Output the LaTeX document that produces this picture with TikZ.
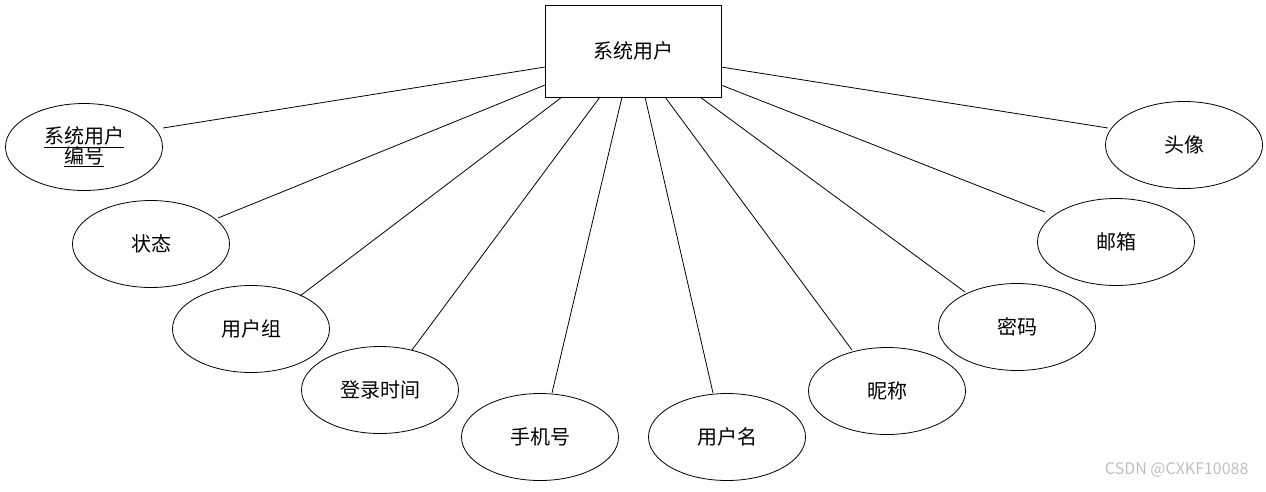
\documentclass[tikz,border=0pt]{standalone}
\usepackage{fontspec}
\setmainfont{Noto Sans CJK SC}
\usetikzlibrary{shapes.geometric}
\begin{document}
\begin{tikzpicture}[x=1pt,y=-1pt,
  ent/.style={draw,thick,minimum width=176pt,minimum height=92pt,inner sep=0pt,font=\fontsize{20}{22}\selectfont},
  att/.style={draw,thick,ellipse,minimum width=157pt,minimum height=87pt,inner sep=0pt,font=\fontsize{20}{22}\selectfont},
  ln/.style={thick}]
\useasboundingbox (0,0) rectangle (1266,491);
\node[ent] (u) at (633,51) {系统用户};
\node[att,align=center] (a1) at (84,147) {\underline{系统用户}\\[-2pt]\underline{编号}};
\node[att] (a2) at (151,244) {状态};
\node[att] (a3) at (251,329) {用户组};
\node[att] (a4) at (380,390) {登录时间};
\node[att] (a5) at (540,437) {手机号};
\node[att] (a6) at (727,437) {用户名};
\node[att] (a7) at (887,391) {昵称};
\node[att] (a8) at (1017,327) {密码};
\node[att] (a9) at (1116,242) {邮箱};
\node[att] (a10) at (1184,145) {头像};
\coordinate (p1) at (545,67);
\coordinate (p2) at (545,85);
\coordinate (p3) at (562,97);
\coordinate (p4) at (600,97);
\coordinate (p5) at (622,97);
\coordinate (p6) at (645,97);
\coordinate (p7) at (665,97);
\coordinate (p8) at (700,97);
\coordinate (p9) at (721,85);
\coordinate (p10) at (721,67);
\draw[ln] (p1) -- (163,128);
\draw[ln] (p2) -- (218,218);
\draw[ln] (p3) -- (300,296);
\draw[ln] (p4) -- (412,350);
\draw[ln] (p5) -- (552,393);
\draw[ln] (p6) -- (713,393);
\draw[ln] (p7) -- (852,350);
\draw[ln] (p8) -- (965,292);
\draw[ln] (p9) -- (1045,212);
\draw[ln] (p10) -- (1108,128);
\node[text=gray!50,font=\fontsize{16}{18}\selectfont,anchor=east] (wm) at (1252,470) {CSDN @CXKF10088};
\end{tikzpicture}
\end{document}
